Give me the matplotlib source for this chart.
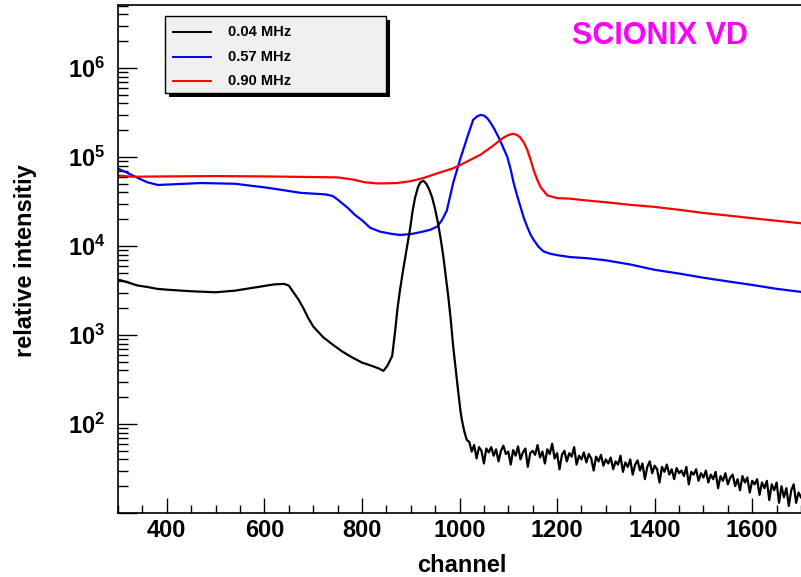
import numpy as np
import matplotlib
matplotlib.use("Agg")
import matplotlib.pyplot as plt
from matplotlib.ticker import MultipleLocator, LogLocator, FuncFormatter, NullFormatter
from matplotlib.patches import Rectangle
from matplotlib.lines import Line2D

plt.rcParams["font.family"] = ["Liberation Sans", "DejaVu Sans"]
plt.rcParams["font.weight"] = "bold"
plt.rcParams["mathtext.fontset"] = "custom"
plt.rcParams["mathtext.rm"] = "Liberation Sans:bold"
plt.rcParams["mathtext.bf"] = "Liberation Sans:bold"

# --- spectra -----------------------------------------------------------------
# 0.04 MHz: smooth part up to the photopeak edge
ch_low = [300, 320, 340, 362, 380, 400, 450, 500, 540, 571, 600, 620, 640, 650,
          660, 670, 680, 690, 700, 720, 740, 760, 780, 800, 820, 835, 844, 852,
          862, 868, 873, 878, 884, 889, 894, 899, 904, 909, 915, 920, 926, 932,
          938, 944, 950, 956, 962, 967, 972, 977, 982, 987, 992, 997, 1002, 1005]
cnt_low = [4200, 3900, 3600, 3450, 3300, 3230, 3100, 3020, 3150, 3350, 3550,
           3700, 3750, 3600, 3000, 2500, 2000, 1550, 1250, 950, 780, 650, 560,
           490, 450, 420, 395, 450, 580, 1100, 2000, 3200, 5200, 7500, 11000,
           16000, 25000, 35000, 46000, 52000, 54000, 50000, 43000, 35000, 26000,
           18000, 11500, 7500, 4500, 2700, 1500, 750, 420, 240, 140, 110]
# 0.04 MHz: noisy tail above the peak, every 5 channels from 1010
tail_start, tail_step = 1010, 5
cnt_tail = [82, 66, 63, 49, 58, 41, 55, 50, 36, 53,
            48, 55, 44, 52, 38, 50, 57, 46, 49, 35,
            51, 44, 56, 40, 48, 53, 33, 47, 50, 45,
            58, 42, 49, 36, 52, 46, 60, 41, 47, 31,
            45, 50, 38, 47, 43, 55, 35, 44, 40, 48,
            37, 46, 41, 30, 43, 38, 45, 34, 40, 36,
            42, 31, 38, 35, 44, 29, 37, 33, 40, 27,
            35, 39, 30, 36, 24, 33, 38, 28, 34, 31,
            22, 33, 29, 35, 27, 31, 24, 32, 28, 30,
            26, 33, 21, 29, 27, 31, 23, 28, 25, 30,
            22, 27, 24, 29, 19, 26, 23, 28, 21, 25,
            27, 20, 24, 18, 26, 22, 25, 17, 23, 21,
            24, 16, 22, 19, 23, 14, 21, 18, 22, 13,
            20, 15, 19, 12, 18, 21, 13, 17, 15]

ch_mid = [300, 320, 341, 360, 382, 420, 470, 540, 608, 675, 725, 740, 751, 760,
          772, 785, 800, 817, 837, 860, 878, 900, 920, 940, 954, 964, 974, 987,
          1001, 1016, 1028, 1036, 1042, 1046, 1051, 1057, 1063, 1071, 1080, 1089,
          1098, 1105, 1111, 1118, 1125, 1132, 1139, 1146, 1152, 1162, 1172, 1185,
          1200, 1227, 1260, 1300, 1350, 1400, 1450, 1500, 1550, 1600, 1650, 1700]
cnt_mid = [74000, 66000, 58000, 52000, 48500, 49500, 51000, 50000, 45000, 39500,
           38000, 36500, 33000, 30000, 26500, 22500, 19500, 16000, 14500, 13700,
           13300, 13600, 14300, 15200, 16500, 19500, 25000, 51000, 93000, 167000,
           261000, 286000, 295000, 296000, 290000, 272000, 246000, 208000, 167000,
           130000, 100000, 72000, 51000, 37000, 27600, 20500, 16300, 13300, 11700,
           9800, 8700, 8200, 7900, 7500, 7300, 6900, 6200, 5400, 4900, 4400, 4000,
           3650, 3300, 3050]

ch_high = [300, 330, 400, 500, 600, 700, 750, 780, 806, 830, 848, 872, 900, 926,
           960, 985, 1001, 1043, 1070, 1090, 1102, 1110, 1117, 1124, 1132, 1139,
           1146, 1152, 1159, 1166, 1180, 1200, 1227, 1260, 1300, 1350, 1400, 1450,
           1500, 1550, 1600, 1650, 1700]
cnt_high = [62000, 60000, 60500, 61000, 60500, 59500, 59000, 56000, 52000, 50500,
            50500, 51000, 53500, 58000, 67000, 74000, 81000, 106000, 135000,
            165000, 178000, 182000, 178000, 167000, 145000, 120000, 92000, 71000,
            56000, 46000, 37000, 34500, 34000, 32500, 31000, 29000, 27500, 25500,
            23500, 22000, 20500, 19200, 18000]

labels = ["0.04 MHz", "0.57 MHz", "0.90 MHz"]
colors = ["black", "#0000ff", "#ff0000"]

ch_tail = tail_start + tail_step * np.arange(len(cnt_tail))
ch_black = np.concatenate([ch_low, ch_tail])
cnt_black = np.concatenate([cnt_low, cnt_tail])

# --- figure --------------------------------------------------------------------
fig = plt.figure(figsize=(8.01, 5.77), dpi=100)
fig.patch.set_facecolor("white")
ax = fig.add_axes([118 / 801, 1 - 513 / 577, 683 / 801, 508 / 577])

ax.plot(ch_black, cnt_black, color=colors[0], lw=1.6, zorder=3)
ax.plot(ch_mid, cnt_mid, color=colors[1], lw=1.6, zorder=2)
ax.plot(ch_high, cnt_high, color=colors[2], lw=1.6, zorder=2)

ax.set_yscale("log")
ax.set_xlim(300, 1700)
ax.set_ylim(10, 5.1e6)


def decade_label(v, pos):
    e = int(round(np.log10(v)))
    if e < 2:
        return ""
    return r"$\mathbf{10^{%d}}$" % e


ax.xaxis.set_major_locator(MultipleLocator(200))
ax.xaxis.set_minor_locator(MultipleLocator(50))
ax.yaxis.set_major_locator(LogLocator(base=10, numticks=10))
ax.yaxis.set_minor_locator(LogLocator(base=10, subs=np.arange(2, 10), numticks=20))
ax.yaxis.set_minor_formatter(NullFormatter())
ax.yaxis.set_major_formatter(FuncFormatter(decade_label))

ax.tick_params(axis="y", which="major", direction="in", length=14, width=1,
               labelsize=17, pad=9)
ax.tick_params(axis="y", which="minor", direction="in", length=7, width=1)
ax.tick_params(axis="x", which="major", direction="in", length=11, width=1,
               labelsize=17, pad=4)
ax.tick_params(axis="x", which="minor", direction="in", length=6, width=1)
for lab in ax.get_xticklabels():
    lab.set_fontweight("bold")

ax.spines["right"].set_visible(False)
for s in ("left", "bottom", "top"):
    ax.spines[s].set_linewidth(1.2)

ax.set_xlabel("channel", fontsize=17, fontweight="bold", va="center")
ax.xaxis.set_label_coords(0.504, -0.104)
ax.set_ylabel("relative intensitiy", fontsize=17, fontweight="bold", va="center")
ax.yaxis.set_label_coords(-0.136, 0.496)

# --- legend box with shadow --------------------------------------------------
W, H = 801, 577
bx0, bx1, by0, by1 = 165, 386, 16, 93
fig.add_artist(Rectangle(((bx0 + 4) / W, 1 - (by1 + 4) / H), (bx1 - bx0) / W,
                         (by1 - by0) / H, transform=fig.transFigure,
                         facecolor="black", edgecolor="none", zorder=5))
fig.add_artist(Rectangle((bx0 / W, 1 - by1 / H), (bx1 - bx0) / W,
                         (by1 - by0) / H, transform=fig.transFigure,
                         facecolor="#f0f0f0", edgecolor="black", lw=1, zorder=6))
for row_y, lab, col in zip([32, 57, 81], labels, colors):
    fig.add_artist(Line2D([173 / W, 211 / W], [1 - row_y / H] * 2,
                          transform=fig.transFigure, color=col, lw=1.4, zorder=7))
    fig.text(228 / W, 1 - row_y / H, lab, fontsize=10.5, fontweight="bold",
             ha="left", va="center", zorder=7)

fig.text(660 / W, 1 - 36 / H, "SCIONIX VD", fontsize=22, fontweight="bold",
         color="#ff00ff", ha="center", va="center")

fig.savefig("out.png", dpi=100, facecolor="white")
